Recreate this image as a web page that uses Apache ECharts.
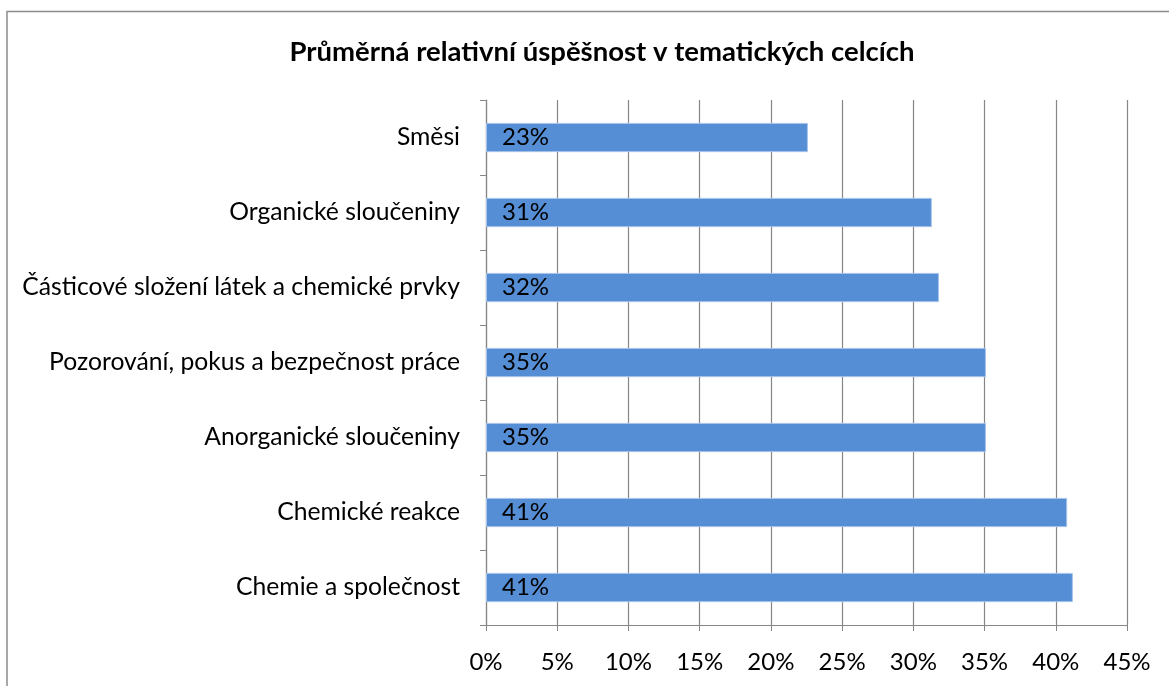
<!DOCTYPE html>
<html><head><meta charset="utf-8">
<script src="https://cdn.jsdelivr.net/npm/echarts@6/dist/echarts.min.js"></script>
<style>html,body{margin:0;padding:0;background:#fff}#c{width:1169px;height:686px}</style>
</head><body><div id="c"></div>
<script>
const categories = ["Chemie a společnost","Chemické reakce","Anorganické sloučeniny","Pozorování, pokus a bezpečnost práce","Částicové složení látek a chemické prvky","Organické sloučeniny","Směsi"];
const values = [0.412, 0.408, 0.351, 0.351, 0.318, 0.313, 0.226];
const tickLabels = ["0%","5%","10%","15%","20%","25%","30%","35%","40%","45%"];
const title = "Průměrná relativní úspěšnost v tematických celcích";

const FONT = "Lato";
const chart = echarts.init(document.getElementById('c'), null, {renderer:'canvas'});
chart.setOption({
  animation:false,
  backgroundColor:'#fff',
  title:{text:title,left:597,top:33,textAlign:'center',textStyle:{fontFamily:FONT,fontSize:27.5,fontWeight:'bold',color:'#000'}},
  graphic:[{type:'rect',shape:{x:7,y:11.5,width:1200,height:700},style:{fill:'none',stroke:'#8c8c8c',lineWidth:1.5},silent:true}],
  grid:{left:486,right:1169-1127,top:100,bottom:686-625,containLabel:false},
  xAxis:{type:'value',min:0,max:0.45,interval:0.05,
    axisLine:{show:true,lineStyle:{color:'#868686',width:1.2}},
    axisTick:{show:true,length:6,lineStyle:{color:'#868686'}},
    splitLine:{show:true,lineStyle:{color:'#868686',width:1.2}},
    axisLabel:{fontFamily:FONT,fontSize:24,color:'#000',margin:25,formatter:(v)=>tickLabels[Math.round(v/0.05)]}},
  yAxis:{type:'category',data:categories,
    axisLine:{show:true,lineStyle:{color:'#868686',width:1.2}},
    axisTick:{show:true,length:6,lineStyle:{color:'#868686'}},
    axisLabel:{fontFamily:FONT,fontSize:24.7,color:'#000',margin:26}},
  series:[{type:'bar',data:values,barCategoryGap:'61%',
    itemStyle:{color:'#558ed5',borderColor:'#a9c4ea',borderWidth:1},
    label:{show:true,position:'insideLeft',offset:[11,0],fontFamily:FONT,fontSize:24,color:'#000',
      formatter:(p)=>Math.round(p.value*100)+'%'}}]
});
</script></body></html>
